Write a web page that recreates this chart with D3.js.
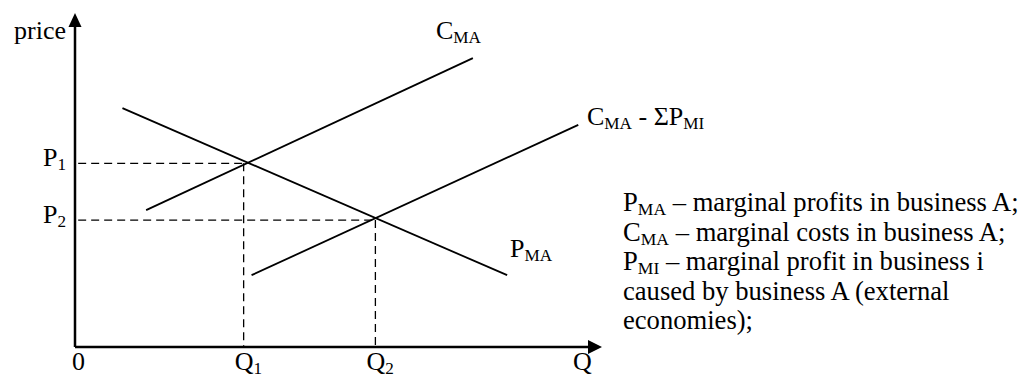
<!DOCTYPE html>
<html>
<head>
<meta charset="utf-8">
<script src="https://cdn.jsdelivr.net/npm/d3@7"></script>
<style>
  body { margin: 0; background: #fff; }
  svg text { font-family: "Liberation Serif", "Times New Roman", serif; fill: #000; }
</style>
</head>
<body>
<svg class="welfare" width="1023" height="378"></svg>
<script>
// curve end points, in chart units (quantity 0-100, price 0-100)
const pmaLine = [[9, 71.5], [82, 21.5]];
const cmaLine = [[13.5, 41], [75.5, 86.5]];
const cmaMinusLine = [[33.5, 21.5], [95.5, 66.5]];

// equilibrium points
const quantities = [32, 57];
const prices = [55, 38];
const qLabels = [['Q', '1'], ['Q', '2']];
const pLabels = [['P', '1'], ['P', '2']];

const legendLines = [
  ['P', 'MA', ' – marginal profits in business A;'],
  ['C', 'MA', ' – marginal costs in business A;'],
  ['P', 'MI', ' – marginal profit in business i'],
  ['caused by business A (external', '', ''],
  ['economies);', '', '']
];

function drawWelfare(){
  const svg = d3.select('svg.welfare');

  // x axis runs 75 -> 602, y axis 347 -> 13
  const x = d3.scaleLinear().domain([0, 100]).range([75, 602]);
  const y = d3.scaleLinear().domain([0, 100]).range([347, 13]);

  const line = d3.line()
    .x(d => x(d[0]))
    .y(d => y(d[1]));

  // axes with arrow heads
  svg.append('line')
    .attr('x1', x(0)).attr('y1', y(0))
    .attr('x2', x(0)).attr('y2', y(96))
    .attr('stroke', '#000').attr('stroke-width', 2.5);
  svg.append('line')
    .attr('x1', x(0)).attr('y1', y(0))
    .attr('x2', x(97.6)).attr('y2', y(0))
    .attr('stroke', '#000').attr('stroke-width', 2.5);

  svg.append('path')
    .attr('d', `M${x(0)},${y(100)} L${x(0) - 6.5},${y(100) + 14} L${x(0) + 6.5},${y(100) + 14} Z`)
    .attr('fill', '#000');
  svg.append('path')
    .attr('d', `M${x(100)},${y(0)} L${x(100) - 14},${y(0) - 7} L${x(100) - 14},${y(0) + 7} Z`)
    .attr('fill', '#000');

  // dashed guides
  prices.forEach((p, i) => {
    svg.append('line')
      .attr('x1', x(0.6)).attr('y1', y(p))
      .attr('x2', x(quantities[i])).attr('y2', y(p))
      .attr('stroke', '#000').attr('stroke-width', 1.3)
      .attr('stroke-dasharray', '8,5');
    svg.append('line')
      .attr('x1', x(quantities[i])).attr('y1', y(p))
      .attr('x2', x(quantities[i])).attr('y2', y(0))
      .attr('stroke', '#000').attr('stroke-width', 1.3)
      .attr('stroke-dasharray', '8,5');
  });

  // curves
  [pmaLine, cmaLine, cmaMinusLine].forEach(d => {
    svg.append('path')
      .attr('d', line(d))
      .attr('fill', 'none')
      .attr('stroke', '#000')
      .attr('stroke-width', 1.8);
  });

  // text with subscript helper
  function subText(px, py, parts, size, anchor){
    size = size || 26;
    const t = svg.append('text')
      .attr('x', px).attr('y', py)
      .style('font-size', size + 'px')
      .style('text-anchor', anchor || 'start');
    parts.forEach((p, i) => {
      if (!p) return;
      const sub = i % 2 === 1;
      t.append('tspan')
        .attr('dy', sub ? 4 : (i > 0 ? -4 : 0))
        .style('font-size', (sub ? size * 0.66 : size) + 'px')
        .text(p);
    });
    return t;
  }

  subText(66, 39, ['price'], 26, 'end');
  subText(x(0) - 3, 370, ['0']);
  subText(x(94.5), 370, ['Q']);

  quantities.forEach((q, i) => subText(x(q) - 9, 370, qLabels[i]));
  prices.forEach((p, i) => subText(43, y(p) + 3, pLabels[i]));

  subText(436, 39, ['C', 'MA']);
  subText(587, 125, ['C', 'MA', ' - ΣP', 'MI']);
  subText(510, 257, ['P', 'MA']);

  legendLines.forEach((d, i) => subText(623, 211 + i * 29.5, d, 26.6));
}

drawWelfare();
</script>
</body>
</html>
